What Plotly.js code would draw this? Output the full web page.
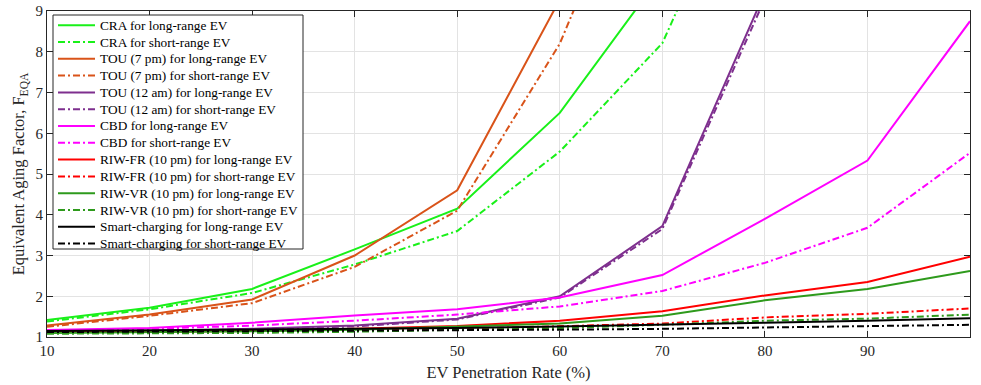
<!DOCTYPE html>
<html>
<head>
<meta charset="utf-8">
<script src="https://cdn.plot.ly/plotly-3.0.1.min.js"></script>
<style>
  html, body { margin: 0; padding: 0; background: #fff; }
  #chart { width: 981px; height: 385px; }
</style>
</head>
<body>
<div id="chart"></div>
<script>
// EV penetration rate (%)
const penetration = [10, 20, 30, 40, 50, 60, 70, 80, 90, 100];

// Equivalent aging factor for each charging strategy
const craLong      = [1.42, 1.72, 2.18, 3.15, 4.15, 6.50, 9.92];
const craShort     = [1.38, 1.68, 2.08, 2.78, 3.60, 5.55, 8.21, 13.8];
const tou7Long     = [1.28, 1.55, 1.92, 3.00, 4.60, 9.28];
const tou7Short    = [1.25, 1.52, 1.83, 2.72, 4.10, 8.20, 14.2];
const tou12Long    = [1.12, 1.15, 1.20, 1.28, 1.45, 2.00, 3.72, 9.46];
const tou12Short   = [1.11, 1.14, 1.19, 1.26, 1.43, 1.97, 3.65, 9.30];
const cbdLong      = [1.17, 1.22, 1.35, 1.53, 1.68, 1.97, 2.52, 3.90, 5.33, 8.75];
const cbdShort     = [1.15, 1.20, 1.28, 1.40, 1.55, 1.75, 2.13, 2.82, 3.68, 5.52];
const riwFrLong    = [1.12, 1.13, 1.15, 1.20, 1.27, 1.40, 1.63, 2.02, 2.35, 2.97];
const riwFrShort   = [1.10, 1.10, 1.12, 1.15, 1.20, 1.27, 1.33, 1.48, 1.57, 1.70];
const riwVrLong    = [1.10, 1.12, 1.14, 1.18, 1.25, 1.33, 1.52, 1.90, 2.18, 2.62];
const riwVrShort   = [1.08, 1.09, 1.10, 1.13, 1.17, 1.22, 1.30, 1.40, 1.45, 1.55];
const smartLong    = [1.15, 1.17, 1.18, 1.20, 1.22, 1.26, 1.30, 1.35, 1.40, 1.46];
const smartShort   = [1.12, 1.13, 1.14, 1.15, 1.17, 1.18, 1.20, 1.23, 1.26, 1.30];

const seriesNames = [
  'CRA for long-range EV',
  'CRA for short-range EV',
  'TOU (7 pm) for long-range EV',
  'TOU (7 pm) for short-range EV',
  'TOU (12 am) for long-range EV',
  'TOU (12 am) for short-range EV',
  'CBD for long-range EV',
  'CBD for short-range EV',
  'RIW-FR (10 pm) for long-range EV',
  'RIW-FR (10 pm) for short-range EV',
  'RIW-VR (10 pm) for long-range EV',
  'RIW-VR (10 pm) for short-range EV',
  'Smart-charging for long-range EV',
  'Smart-charging for short-range EV'
];
const seriesValues = [craLong, craShort, tou7Long, tou7Short, tou12Long, tou12Short,
  cbdLong, cbdShort, riwFrLong, riwFrShort, riwVrLong, riwVrShort, smartLong, smartShort];

const palette = ['#19f019', '#d95319', '#7e2f8e', '#ff00ff', '#ff0000', '#2e9a1c', '#000000'];
const DASH_DOT = '7px,3px,2px,3px';

const colorOf = i => palette[Math.floor(i / 2)];
const dashOf = i => (i % 2 === 0 ? 'solid' : DASH_DOT);

const traces = seriesValues.map((vals, i) => ({
  type: 'scatter',
  mode: 'lines',
  name: seriesNames[i],
  x: penetration.slice(0, vals.length),
  y: vals,
  line: { color: colorOf(i), width: 2, dash: dashOf(i) },
  showlegend: false
}));

const serif = "'Liberation Serif', 'Times New Roman', serif";

// Plot area geometry (pixels) used to place the compact legend box
const W = 981, H = 385;
const M = { l: 47, r: 11, t: 11, b: 48 };
const plotW = W - M.l - M.r, plotH = H - M.t - M.b;
const px = x => (x - M.l) / plotW;          // pixel x -> paper x
const py = y => (H - M.b - y) / plotH;      // pixel y -> paper y

const legendBox = { left: 53, right: 303, top: 15, bottom: 249 };
const rowTop = 25.2, rowStep = 16.8;
const sampleX0 = 58, sampleX1 = 95, textX = 99;

const shapes = [{
  type: 'rect', xref: 'paper', yref: 'paper', layer: 'above',
  x0: px(legendBox.left), x1: px(legendBox.right),
  y0: py(legendBox.bottom), y1: py(legendBox.top),
  fillcolor: '#ffffff', line: { color: '#262626', width: 1 }
}];
const annotations = [];
seriesNames.forEach((name, i) => {
  const yRow = rowTop + i * rowStep;
  shapes.push({
    type: 'line', xref: 'paper', yref: 'paper', layer: 'above',
    x0: px(sampleX0), x1: px(sampleX1), y0: py(yRow), y1: py(yRow),
    line: { color: colorOf(i), width: 2, dash: dashOf(i) }
  });
  annotations.push({
    xref: 'paper', yref: 'paper', x: px(textX), y: py(yRow),
    xanchor: 'left', yanchor: 'middle', showarrow: false,
    text: name, font: { family: serif, size: 13.3, color: '#000000' },
    borderpad: 0
  });
});

const layout = {
  width: W,
  height: H,
  margin: M,
  paper_bgcolor: '#ffffff',
  plot_bgcolor: '#ffffff',
  font: { family: serif, size: 15, color: '#262626' },
  showlegend: false,
  shapes: shapes,
  annotations: annotations,
  xaxis: {
    range: [10, 100],
    tickvals: [10, 20, 30, 40, 50, 60, 70, 80, 90, 100],
    ticks: 'inside', ticklen: 6, tickcolor: '#262626',
    mirror: 'allticks', showline: true, linecolor: '#262626', linewidth: 1,
    showgrid: true, gridcolor: '#e3e3e3', zeroline: false,
    tickfont: { family: serif, size: 15, color: '#262626' },
    title: { text: 'EV Penetration Rate (%)', font: { family: serif, size: 16.5, color: '#262626' }, standoff: 8 }
  },
  yaxis: {
    range: [1, 9],
    tickvals: [1, 2, 3, 4, 5, 6, 7, 8, 9],
    ticks: 'inside', ticklen: 6, tickcolor: '#262626',
    mirror: 'allticks', showline: true, linecolor: '#262626', linewidth: 1,
    showgrid: true, gridcolor: '#e3e3e3', zeroline: false,
    tickfont: { family: serif, size: 15, color: '#262626' },
    title: { text: 'Equivalent Aging Factor, F<sub>EQA</sub>', font: { family: serif, size: 16.5, color: '#262626' }, standoff: 6 }
  }
};

Plotly.newPlot('chart', traces, layout, { displayModeBar: false, staticPlot: true });
</script>
</body>
</html>
